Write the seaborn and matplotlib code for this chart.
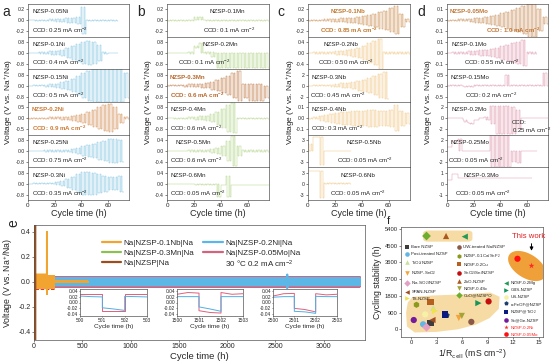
import numpy as np
import pandas as pd
import matplotlib
matplotlib.use("Agg")
import matplotlib.pyplot as plt
import seaborn as sns
from matplotlib.lines import Line2D
from matplotlib.patches import Rectangle, Polygon, FancyBboxPatch

W, H = 554, 361

# ---------------- panels a-d : critical current density tests ----------------
# each entry = one 4 h current step (two 1 h charge / 1 h discharge cycles)
# a number means +/- amplitude (V), a tuple means (charge level, discharge level)
STEP_H = 4

A_NAMES = ["NZSP-0.05Ni", "NZSP-0.1Ni", "NZSP-0.15Ni", "NZSP-0.2Ni", "NZSP-0.25Ni", "NZSP-0.3Ni"]
A_CCD = ["0.25", "0.4", "0.5", "0.9", "0.75", "0.35"]
A_TICK = [0.2, 0.8, 0.8, 0.5, 0.8, 0.8]
A_STEPS = [
    [0.003, 0.005, 0.01, 0.015, 0.02, 0.025, 0.03, 0.04, 0.05, 0.07, 0.25, 0.01, 0.01, 0.01, 0.01, 0.01, 0.01],
    [0.01, 0.02, 0.05, 0.08, 0.12, 0.18, 0.25, 0.35, 0.5, 0.65, 0.8, 0.9, 0.8, 0.6, 0.05, 0.03, 0.03],
    [0.01, 0.02, 0.04, 0.07, 0.1, 0.15, 0.25, 0.35, 0.5, 0.7, 0.9, 1.1, 1.2, 1.2, 1.2, 1.2, 1.2, 1.2, 0.9],
    [0.01, 0.015, 0.02, 0.03, 0.04, 0.05, 0.06, 0.08, 0.1, 0.15, 0.22, 0.3, 0.4, 0.5, 0.6, 0.65, 0.5, 0.2, 0.05],
    [0.01, 0.02, 0.03, 0.04, 0.05, 0.06, 0.08, 0.1, 0.15, 0.25, 0.35, 0.45, 0.55, 0.65, 0.75, 0.85, 0.9, 0.8],
    [0.01, 0.02, 0.03, 0.04, 0.05, 0.1, 0.2, 0.35, 0.5, 0.7, 0.85, 0.85, 0.8, 0.7, 0.6, 0.5, 0.5, 0.6],
]

B_NAMES = ["NZSP-0.1Mn", "NZSP-0.2Mn", "NZSP-0.3Mn", "NZSP-0.4Mn", "NZSP-0.5Mn", "NZSP-0.6Mn"]
B_CCD = ["0.1", "0.1", "0.6", "0.6", "0.6", "0.05"]
B_TICK = [0.2, 0.8, 0.8, 0.8, 0.4, 0.4]
B_STEPS = [
    [0.005, 0.005, 0.005, 0.005, 0.005, (0.06, 0.0), (0.06, 0.0), 0.005, 0.005, 0.005, 0.005, 0.005,
     0.005, 0.005, 0.005, 0.005, 0.005, 0.005, 0.005],
    [0.01, 0.01, 0.02, 0.03, 0.05, (0.5, 0.4), (0.7, 0.0), (0.1, -0.1), (0.1, -0.3), (0.0, -1.1),
     (0.0, -1.1), (0.0, -1.1), (0.0, -1.1), (0.0, -1.1), (0.0, -1.1), (0.0, -1.1), (0.0, -1.1), (0.0, -1.1), (0.0, -1.1)],
    [0.02, 0.03, 0.05, 0.07, 0.1, 0.12, 0.15, 0.2, 0.3, 0.4, 0.55, 0.7, 0.9, 1.1,
     (0.1, -0.9), (0.1, -1.1), (0.1, -1.1), (0.1, -1.1), (0.0, -0.9)],
    [0.01, 0.02, 0.03, 0.05, 0.07, 0.1, 0.15, 0.2, 0.3, 0.5, 0.7, 1.0, 1.1, 0.02, 0.02, 0.02, 0.02, 0.02, 0.02],
    [0.005, 0.01, 0.01, 0.015, 0.02, 0.03, 0.04, 0.05, 0.07, 0.1, 0.2, 0.35, 0.55, 0.2, 0.02, 0.02, 0.02, 0.02, 0.02],
    [0.005, 0.005, 0.005, 0.005, 0.005, (0.0, -0.05), (0.0, -0.05), (0.0, -0.05), (0.0, -0.05), (0.0, -0.5),
     (-0.05, -0.05), (0.3, -0.5), (-0.05, -0.05), (-0.05, -0.05), (-0.05, -0.05), (-0.05, -0.05), (-0.05, -0.05),
     (-0.05, -0.05), (-0.05, -0.05)],
]

C_NAMES = ["NZSP-0.1Nb", "NZSP-0.2Nb", "NZSP-0.3Nb", "NZSP-0.4Nb", "NZSP-0.5Nb", "NZSP-0.6Nb"]
C_CCD = ["0.85", "0.50", "0.45", "0.3", "0.05", "0.05"]
C_TICK = [0.2, 0.4, 2, 0.1, 3, 3]
C_STEPS = [
    [0.005, 0.01, 0.015, 0.02, 0.025, 0.03, 0.035, 0.04, 0.05, 0.06, 0.08, 0.1, 0.12, 0.15, 0.18, 0.22, 0.26, 0.12, 0.03],
    [0.01, 0.02, 0.03, 0.04, 0.05, 0.06, 0.08, 0.1, 0.13, 0.18, 0.25, 0.35, 0.45, (0.5, -0.6),
     0.05, 0.05, 0.05, 0.05, 0.05],
    [0.02, 0.05, 0.1, 0.15, 0.2, 0.3, 0.4, 0.5, 0.7, 0.9, 1.1, 1.4, 1.8, 2.2, 2.5],
    [0.005, 0.01, 0.02, 0.03, 0.04, 0.05, 0.06, 0.06, 0.07, 0.07, 0.07, 0.08, 0.08, 0.07, 0.07, 0.08, 0.12, 0.07, 0.05],
    [(2.0, 0.0), (3.8, 3.8), (3.8, -3.8), 0.05, 0.05, 0.05, 0.05, 0.05],
    [(3.6, 3.6), (3.6, 3.6), (3.6, -4.0), 0.05, 0.05, 0.05, 0.05, 0.05],
]

D_NAMES = ["NZSP-0.05Mo", "NZSP-0.1Mo", "NZSP-0.15Mo", "NZSP-0.2Mo", "NZSP-0.25Mo", "NZSP-0.3Mo"]
D_CCD = ["1.0", "0.55", "0.2", "0.25", "0.05", "0.05"]
D_TICK = [0.1, 0.1, 0.5, 2, 2, 1]
D_STEPS = [
    [0.003, 0.005, 0.008, 0.01, 0.015, 0.02, 0.025, 0.03, 0.04, 0.05, 0.065, 0.08, 0.095, 0.11, 0.13, 0.15, 0.15, 0.1, 0.03],
    [0.003, 0.005, 0.008, 0.01, 0.015, 0.02, 0.025, 0.03, 0.04, 0.05, 0.06, 0.075, 0.09, 0.1, 0.12, 0.01, 0.01],
    [0.01, 0.01, 0.02, (0.0, -0.05), (0.0, -0.05), 0.02, 0.02, 0.02, 0.02, 0.02, 0.02, (0.5, 0.0),
     0.03, 0.03, 0.03, 0.03, 0.03, 0.03, (0.6, 0.0)],
    [0.02, 0.02, 0.02, (-0.3, -0.6), (-0.8, -1.0), (-0.3, -0.3), (0.0, 0.0), (0.3, -0.3), (2.3, -1.0),
     (2.3, -2.8), (2.3, -2.8), (2.3, -2.8), (2.0, -2.8), (1.5, -2.0), 0.02, 0.02, 0.02, 0.02, 0.02],
    [(0.8, 0.8), (1.8, 1.8), (2.2, 0.0), 0.02, 0.02, 0.02, 0.02, 0.02, (3.0, -3.0), (3.0, -3.0), (3.0, -3.0),
     (3.0, -3.0), (0.0, -2.0), (0.0, -2.2), 0.02, 0.02, 0.02],
    [(0.3, 0.3), (0.9, 0.9), (0.5, 0.5), (0.5, 0.5), (0.5, 0.5), (0.5, 0.5), (0.5, 0.5), (0.5, 0.5),
     (0.5, 0.5), (0.5, 0.5), (0.5, 0.5), (0.5, 0.5), (0.5, 0.5), (0.5, 0.5), (0.5, 0.5), (0.5, 0.5)],
]

# ---------------- panel e : long-term symmetric cycling ----------------
# segment boundaries (h) with charge / discharge voltage in each segment
E_MO_T, E_MO_HI, E_MO_LO = [0, 3380], [0.04], [-0.04]
E_NI_T, E_NI_HI, E_NI_LO = [0, 2620, 2630, 3380], [0.03, 0.06, 0.03], [-0.03, -0.05, -0.03]
E_MN_T, E_MN_HI, E_MN_LO = [0, 60], [0.02], [-0.02]
E_NB_T = [0, 10, 130, 140, 210, 560]
E_NB_HI = [0.43, 0.06, 0.40, 0.05, 0.005]
E_NB_LO = [-0.10, -0.05, -0.10, -0.05, -0.005]
E_NZ_T, E_NZ_HI, E_NZ_LO = [0, 12], [0.46], [-0.47]

# insets (zoomed voltage profiles)
INS_OFF = [0, 0.5, 1, 1, 1.5, 2, 2, 2.5, 3]
INS_START = [500, 1500, 2500]
INS_MO = [
    [0.030, 0.030, 0.030, -0.030, -0.030, -0.030, 0.030, 0.030, 0.030],
    [0.028, 0.034, 0.032, -0.028, -0.034, -0.036, 0.034, 0.028, 0.030],
    [0.022, 0.030, 0.031, -0.020, -0.024, -0.032, 0.030, 0.026, 0.028],
]
INS_NI = [
    [0.022, 0.020, 0.019, -0.018, -0.022, -0.027, 0.021, 0.020, 0.019],
    [0.020, 0.020, 0.020, -0.015, -0.022, -0.030, 0.020, 0.020, 0.020],
    [0.018, 0.020, 0.020, -0.030, -0.032, -0.037, 0.021, 0.020, 0.020],
]

# ---------------- panel f : comparison with literature ----------------
F_LABELS = ["Bare NZSP", "Post-treated NZSP", "TiO$_2$/NZSP", "NZSP-SnO$_2$", "Na-SiO$_2$/NZSP",
            "SPAN-NZSP", "TS-NZSP", "UW-treated Na/NZSP", "NZSP-0.1Ca/SnF$_2$", "NZSP-0.2Cu",
            "SnO$_2$/Sn/NZSP", "ZnO-NZSP", "NZSP-0.4Sc", "CuO@NZSPO", "NZSP-0.2Mg", "GBS-NZSP",
            "US-NZSP", "α-FeOF@NZSP", "NZSP@TiO$_2$", "Sc@Ge-NZSP", "NZSP-0.2Ni", "NZSP-0.05Mo"]
F_X = [2.26, 1.4, 2.6, 5.6, 1.8, 2.5, 2.8, 7.07, 0.62, 2.26, 9.1, 4.1, 5.95, 1.8, 6.3, 7.9,
       1.64, 4.18, 4.0, 0.3, 14.15, 12.5]
F_Y = [330, 270, 1160, 610, 110, 500, 990, 400, 1320, 1460, 1500, 5025, 720, 5025, 4990, 1410,
       800, 750, 800, 500, 3420, 3800]
F_MARK = ["s", "o", "^", "v", "D", "<", ">", "o", "h", "s", "o", "^", "v", "D", "<", ">",
          "o", "p", "s", "o", "*", "o"]
F_COL = ["#3d3d3d", "#62b6e6", "#c5e39a", "#f3a43a", "#e3a0c4", "#a24f1f", "#f1e24c", "#8c5848",
         "#8b9a1c", "#b5601e", "#c40d0d", "#a85a1e", "#a3a338", "#6cae2e", "#239a55", "#14955a",
         "#f5f2a8", "#1d3f6e", "#0b1a80", "#741a9c", "#ff2a2a", "#ff1010"]

# ---------------- style ----------------
sns.set_theme(style="ticks")
plt.rcParams["font.family"] = ["Liberation Sans", "DejaVu Sans"]
plt.rcParams.update({
    "axes.linewidth": 0.5, "axes.edgecolor": "#555555",
    "xtick.major.size": 1.5, "ytick.major.size": 1.5,
    "xtick.major.width": 0.4, "ytick.major.width": 0.4,
    "xtick.major.pad": 1.0, "ytick.major.pad": 1.0,
    "axes.labelpad": 1.5, "mathtext.default": "regular",
})

fig = plt.figure(figsize=(W / 100, H / 100), dpi=100)


def px_rect(x0, y0, x1, y1):
    return [x0 / W, 1 - y1 / H, (x1 - x0) / W, (y1 - y0) / H]


def ccd_wave(steps):
    t, v = [], []
    for i, s in enumerate(steps):
        hi, lo = s if isinstance(s, tuple) else (s, -s)
        for k in range(STEP_H):
            h = i * STEP_H + k
            val = hi if k % 2 == 0 else lo
            t += [h, h + 1]
            v += [val, val]
    return np.array(t, float), np.array(v, float)


def seg_wave(bounds, his, los):
    t, v = [], []
    for j in range(len(his)):
        for h in range(int(bounds[j]), int(bounds[j + 1])):
            val = his[j] if h % 2 == 0 else los[j]
            t += [h, h + 1]
            v += [val, val]
    return np.array(t, float), np.array(v, float)


def draw_ccd_column(x0, x1, names, ccds, ticks, steps, colour, hi_idx, hi_colour,
                    name_x, ccd_x, letter, letter_x, ylab_x):
    top, bottom = 4, 200
    h = (bottom - top) / 6
    for i in range(6):
        ax = fig.add_axes(px_rect(x0, top + i * h, x1, top + (i + 1) * h))
        c = hi_colour if i == hi_idx else colour
        t, v = ccd_wave(steps[i])
        sns.lineplot(x=t, y=v, ax=ax, color=c, lw=0.3, sort=False, estimator=None)
        tk = ticks[i]
        ax.set_ylim(-1.5 * tk, 1.5 * tk)
        ax.set_yticks([-tk, 0, tk])
        fmt = "{:.1f}" if tk < 1 else "{:.0f}"
        ax.set_yticklabels([fmt.format(-tk), fmt.format(0), fmt.format(tk)], fontsize=3.7)
        ax.set_xlim(0, 76)
        ax.set_xticks([0, 20, 40, 60])
        if i < 5:
            ax.tick_params(axis="x", labelbottom=False, length=0)
        else:
            ax.set_xticklabels(["0", "20", "40", "60"], fontsize=4.5)
            ax.set_xlabel("Cycle time (h)", fontsize=6.5, labelpad=0.5)
        ax.set_ylabel("")
        if i == hi_idx:
            kw = dict(color=hi_colour, fontweight="bold")
        else:
            kw = dict(color="#222222")
        ax.text(name_x[i], 0.76, names[i], transform=ax.transAxes, fontsize=4.4, va="center", **kw)
        if names[i] == "NZSP-0.2Mo":
            ax.text(ccd_x[i], 0.38, "CCD:", transform=ax.transAxes, fontsize=4.4, va="center", **kw)
            ax.text(ccd_x[i], 0.14, f"{ccds[i]} mA cm$^{{-2}}$", transform=ax.transAxes,
                    fontsize=4.4, va="center", **kw)
        else:
            ax.text(ccd_x[i], 0.2, f"CCD: {ccds[i]} mA cm$^{{-2}}$", transform=ax.transAxes,
                    fontsize=4.4, va="center", **kw)
    fig.text(letter_x / W, 1 - 12 / H, letter, fontsize=10, ha="center", va="center")
    fig.text(ylab_x / W, 1 - 102 / H, "Voltage (V vs. Na$^{+}$/Na)", rotation=90,
             fontsize=6, ha="center", va="center")


draw_ccd_column(28, 129, A_NAMES, A_CCD, A_TICK, A_STEPS, "#72bcdc", 3, "#cc7a35",
                [0.04] * 6, [0.04] * 6, "a", 6, 9)
draw_ccd_column(167, 269, B_NAMES, B_CCD, B_TICK, B_STEPS, "#a8cb78", 2, "#b8682c",
                [0.42, 0.35, 0.03, 0.03, 0.08, 0.03], [0.35, 0.11, 0.03, 0.03, 0.03, 0.03], "b", 141, 149)
draw_ccd_column(308, 410, C_NAMES, C_CCD, C_TICK, C_STEPS, "#efbe72", 0, "#c27a30",
                [0.22, 0.15, 0.03, 0.03, 0.38, 0.32], [0.12, 0.1, 0.02, 0.03, 0.28, 0.22], "c", 281, 291)
draw_ccd_column(447, 548, D_NAMES, D_CCD, D_TICK, D_STEPS, "#d98aa0", 0, "#c0783a",
                [0.03, 0.04, 0.03, 0.04, 0.03, 0.16], [0.39, 0.17, 0.18, 0.64, 0.01, 0.08], "d", 421, 429)

# ---------------- panel e ----------------
ax_e = fig.add_axes(px_rect(34, 225, 365, 340))
E_SERIES = [
    ("Na|NZSP-0.05Mo|Na", "#d3647e", E_MO_T, E_MO_HI, E_MO_LO),
    ("Na|NZSP-0.2Ni|Na", "#5cb6e6", E_NI_T, E_NI_HI, E_NI_LO),
    ("Na|NZSP-0.3Mn|Na", "#8cc152", E_MN_T, E_MN_HI, E_MN_LO),
    ("Na|NZSP-0.1Nb|Na", "#f2a431", E_NB_T, E_NB_HI, E_NB_LO),
    ("Na|NZSP|Na", "#9c4d1c", E_NZ_T, E_NZ_HI, E_NZ_LO),
]
colours_e = {}
for name, col, tb, hi, lo in E_SERIES:
    t, v = seg_wave(tb, hi, lo)
    sns.lineplot(x=t, y=v, ax=ax_e, color=col, lw=0.8, sort=False, estimator=None)
    colours_e[name] = col
ax_e.add_patch(Rectangle((15, -0.056), 190, 0.112, fill=False, ec="#e03030", ls="--", lw=0.7))
ax_e.set_xlim(0, 3430)
ax_e.set_ylim(-0.465, 0.455)
ax_e.set_xticks([0, 500, 1000, 1500, 2000, 2500, 3000])
ax_e.set_yticks([-0.4, -0.2, 0.0, 0.2, 0.4])
ax_e.set_yticklabels(["-0.4", "-0.2", "0.0", "0.2", "0.4"])
ax_e.tick_params(labelsize=5)
ax_e.set_xlabel("Cycle time (h)", fontsize=6.8, labelpad=1)
ax_e.set_ylabel("Voltage (V vs. Na$^{+}$/Na)", fontsize=6.3, labelpad=2)
order = ["Na|NZSP-0.1Nb|Na", "Na|NZSP-0.3Mn|Na", "Na|NZSP|Na", "Na|NZSP-0.2Ni|Na", "Na|NZSP-0.05Mo|Na"]
handles = [Line2D([], [], color=colours_e[n], lw=1.6) for n in order]
handles.append(Line2D([], [], color="none"))
labels = order + ["30 °C 0.2 mA cm$^{-2}$"]
ax_e.legend(handles, labels, ncol=2, loc="upper left", bbox_to_anchor=(98 / W, 1 - 235 / H),
            bbox_transform=fig.transFigure, frameon=False, fontsize=5.8, handlelength=2.4,
            columnspacing=1.1, labelspacing=0.3, handletextpad=0.3, borderpad=0)
fig.text(13 / W, 1 - 223 / H, "e", fontsize=10, rotation=90, ha="center", va="center")

for k, (xa, xb) in enumerate([(80, 147), (177, 243), (273, 337)]):
    axi = fig.add_axes(px_rect(xa, 289, xb, 316))
    t0 = INS_START[k]
    ti = [t0 + o for o in INS_OFF]
    sns.lineplot(x=ti, y=INS_MO[k], ax=axi, color="#e0607c", lw=0.7, sort=False, estimator=None)
    sns.lineplot(x=ti, y=INS_NI[k], ax=axi, color="#4fb0e2", lw=0.7, sort=False, estimator=None)
    axi.set_xlim(t0, t0 + 3)
    axi.set_ylim(-0.046, 0.046)
    axi.set_xticks([t0, t0 + 1, t0 + 2, t0 + 3])
    axi.set_yticks([-0.04, -0.02, 0.0, 0.02, 0.04])
    axi.set_yticklabels(["-0.04", "-0.02", "0.00", "0.02", "0.04"])
    axi.tick_params(labelsize=3.5, length=1, pad=0.5)
    axi.set_xlabel("Cycle time (h)", fontsize=4.6, labelpad=0.5)
    axi.set_ylabel("")

# ---------------- panel f ----------------
ax_f = fig.add_axes(px_rect(401, 227, 543, 337))
ax_f.add_patch(FancyBboxPatch((1.4, 4720), 5.8, 600, boxstyle="round,pad=0,rounding_size=0.6",
                              mutation_aspect=250, fc="#f7dba4", ec="none", zorder=0))
ax_f.add_patch(Polygon([(-0.4, 1450), (0.2, 1750), (2.5, 1820), (6.0, 1880), (9.3, 1980), (10.4, 1750),
                        (10.3, 1100), (9.2, 600), (7.6, 250), (5.5, 0), (3.0, -140), (0.4, -170),
                        (-0.5, 150), (-0.6, 900)],
                       closed=True, fc="#f7dba4", ec="none", zorder=0, joinstyle="round"))
th = np.linspace(0, 2 * np.pi, 80)
ang = np.deg2rad(-32)
ex = 21 * np.cos(th) * np.cos(ang) - 12 * np.sin(th) * np.sin(ang)
ey = 21 * np.cos(th) * np.sin(ang) + 12 * np.sin(th) * np.cos(ang)
cx, cy = (527 - 401) / 142, (337 - 266) / 110
ax_f.add_patch(Polygon(np.column_stack([cx + ex / 142, cy + ey / 110]), closed=True,
                       transform=ax_f.transAxes, fc="#f0a038", ec="none", zorder=0))

df_f = pd.DataFrame({"x": F_X, "y": F_Y, "name": F_LABELS})
sns.scatterplot(data=df_f, x="x", y="y", hue="name", style="name",
                palette=dict(zip(F_LABELS, F_COL)), markers=dict(zip(F_LABELS, F_MARK)),
                s=20, edgecolor="none", legend=False, ax=ax_f, zorder=3)
ax_f.set_xlim(-1.2, 15.5)
ax_f.set_ylim(-415, 5510)
ax_f.set_xticks([0, 3, 6, 9, 12, 15])
ax_f.set_yticks([0, 900, 1800, 2700, 3600, 4500, 5400])
ax_f.tick_params(labelsize=4.2)
ax_f.set_xlabel("1/$R_{\\rm cell}$ (mS cm$^{-2}$)", fontsize=6.3, labelpad=1)
ax_f.set_ylabel("Cycling stability (h)", fontsize=6.3, labelpad=1.5)
ax_f.text(13.8, 5000, "This work", color="#e02020", fontsize=5.6, ha="center", va="center")
ax_f.annotate("", xy=(14.15, 4080), xytext=(14.15, 4760),
              arrowprops=dict(arrowstyle="-|>", color="black", lw=0.7, mutation_scale=5))

hd = [Line2D([], [], ls="none", marker=m, color=c, markersize=3.3, markeredgewidth=0)
      for m, c in zip(F_MARK, F_COL)]
leg_kw = dict(loc="upper left", bbox_transform=fig.transFigure, frameon=False, fontsize=3.2,
              handlelength=0.9, handletextpad=0.5, labelspacing=0.62, borderpad=0)
leg1 = ax_f.legend(hd[:7], F_LABELS[:7], bbox_to_anchor=(403 / W, 1 - 243 / H), **leg_kw)
ax_f.add_artist(leg1)
leg2 = ax_f.legend(hd[7:14], F_LABELS[7:14], bbox_to_anchor=(455 / W, 1 - 243 / H), **leg_kw)
ax_f.add_artist(leg2)
leg3 = ax_f.legend(hd[14:], F_LABELS[14:], bbox_to_anchor=(502 / W, 1 - 279 / H), **leg_kw)
for txt in leg3.get_texts()[-2:]:
    txt.set_color("#ff2020")
fig.text(388 / W, 1 - 221 / H, "f", fontsize=8, ha="center", va="center")

fig.savefig("out.png", dpi=100)
